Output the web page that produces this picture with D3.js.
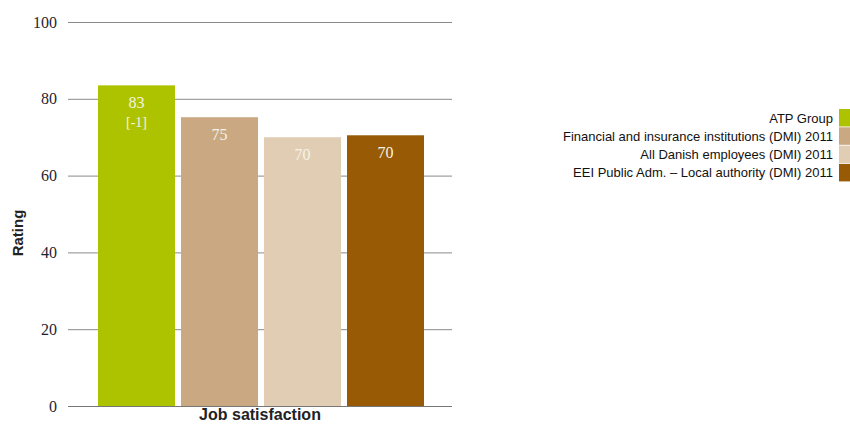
<!DOCTYPE html>
<html>
<head>
<meta charset="utf-8">
<script src="https://cdn.jsdelivr.net/npm/d3@7"></script>
<style>
  body { margin: 0; background: #fff; }
  svg { display: block; }
</style>
</head>
<body>
<svg id="chart" width="850" height="424"></svg>
<script>
// data
var series = ['ATP Group', 'Financial and insurance institutions (DMI) 2011',
              'All Danish employees (DMI) 2011', 'EEI Public Adm. \u2013 Local authority (DMI) 2011'];
var values = [83.5, 75.2, 70.0, 70.5];
var valueLabels = [['83', '[-1]'], ['75'], ['70'], ['70']];
var colors = ['#aec300', '#c9a882', '#e0cdb3', '#985a05'];
var yTicks = [0, 20, 40, 60, 80, 100];
var category = 'Job satisfaction';

var svg = d3.select('#chart');

// plot box (note: "top" is taken by window.top, so use other names)
var plotLeft = 68, plotRight = 452, plotTop = 22, plotBottom = 406;

var y = d3.scaleLinear().domain([0, 100]).range([plotBottom, plotTop]);
var x = d3.scaleBand().domain(series).range([98, 424]).paddingInner(6 / 83).paddingOuter(0);

// gridlines + tick labels
var yAxis = d3.axisLeft(y).tickValues(yTicks).tickSize(-(plotRight - plotLeft)).tickPadding(11);
var gy = svg.append('g').attr('transform', 'translate(' + plotLeft + ',0)').call(yAxis);
gy.select('.domain').remove();
gy.selectAll('.tick line').attr('stroke', '#8a8a8a').attr('stroke-width', 1);
gy.selectAll('.tick text')
    .attr('fill', '#1f1f30')
    .style('font-family', '"Liberation Serif", serif')
    .style('font-size', '16px');

// bars
svg.append('g').selectAll('rect')
    .data(values)
    .join('rect')
    .attr('x', function(d, i) { return x(series[i]); })
    .attr('y', function(d) { return y(d); })
    .attr('width', x.bandwidth())
    .attr('height', function(d) { return y(0) - y(d); })
    .attr('fill', function(d, i) { return colors[i]; });

// baseline over the bars
svg.append('line')
    .attr('x1', plotLeft).attr('x2', plotRight)
    .attr('y1', y(0) + 0.5).attr('y2', y(0) + 0.5)
    .attr('stroke', '#777').attr('stroke-width', 1);

// value labels inside the bars
var lbl = svg.append('g').selectAll('text')
    .data(values)
    .join('text')
    .attr('x', function(d, i) { return x(series[i]) + x.bandwidth() / 2; })
    .attr('y', function(d) { return y(d) + 23; })
    .attr('text-anchor', 'middle')
    .attr('fill', '#f4f4e6')
    .style('font-family', '"Liberation Serif", serif')
    .style('font-size', '16px');
lbl.each(function(d, i) {
    var t = d3.select(this);
    valueLabels[i].forEach(function(s, j) {
        t.append('tspan')
            .attr('x', t.attr('x'))
            .attr('dy', j === 0 ? 0 : 19)
            .style('font-size', j === 0 ? '16px' : '14px')
            .text(s);
    });
});

// axis titles
svg.append('text')
    .attr('transform', 'translate(23,233) rotate(-90)')
    .attr('text-anchor', 'middle')
    .attr('fill', '#222')
    .style('font-family', '"Liberation Sans", Arial, sans-serif')
    .style('font-weight', 'bold')
    .style('font-size', '15px')
    .text('Rating');

svg.append('text')
    .attr('x', (plotLeft + plotRight) / 2)
    .attr('y', 420)
    .attr('text-anchor', 'middle')
    .attr('fill', '#222')
    .style('font-family', '"Liberation Sans", Arial, sans-serif')
    .style('font-weight', 'bold')
    .style('font-size', '16px')
    .text(category);

// legend, right aligned against the swatches
var legend = svg.append('g').attr('transform', 'translate(0,109)');
var row = legend.selectAll('g')
    .data(series)
    .join('g')
    .attr('transform', function(d, i) { return 'translate(0,' + (i * 18.3) + ')'; });
row.append('rect')
    .attr('x', 839).attr('y', 0)
    .attr('width', 12).attr('height', 17.5)
    .attr('fill', function(d, i) { return colors[i]; });
row.append('text')
    .attr('x', 833).attr('y', 13.5)
    .attr('text-anchor', 'end')
    .attr('fill', '#111')
    .style('font-family', '"Liberation Sans", Arial, sans-serif')
    .style('font-size', '13px')
    .text(function(d) { return d; });
</script>
</body>
</html>
